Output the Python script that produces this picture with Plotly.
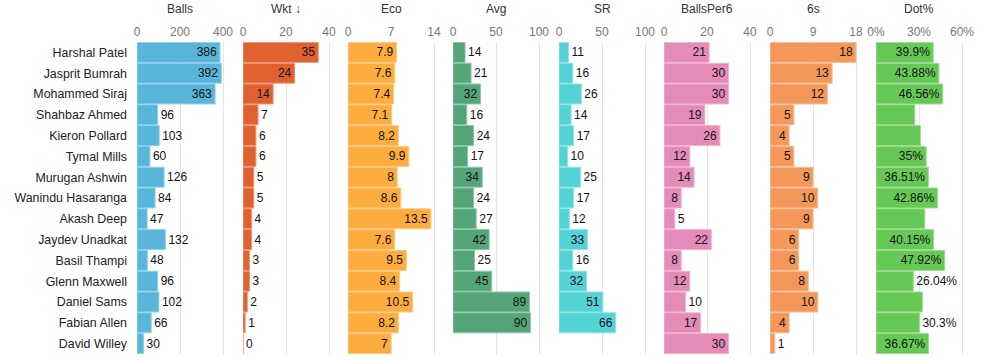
import plotly.graph_objects as go

players = ["Harshal Patel", "Jasprit Bumrah", "Mohammed Siraj", "Shahbaz Ahmed", "Kieron Pollard",
           "Tymal Mills", "Murugan Ashwin", "Wanindu Hasaranga", "Akash Deep", "Jaydev Unadkat",
           "Basil Thampi", "Glenn Maxwell", "Daniel Sams", "Fabian Allen", "David Willey"]
balls = [386, 392, 363, 96, 103, 60, 126, 84, 47, 132, 48, 96, 102, 66, 30]
wkt = [35, 24, 14, 7, 6, 6, 5, 5, 4, 4, 3, 3, 2, 1, 0]
eco = [7.9, 7.6, 7.4, 7.1, 8.2, 9.9, 8, 8.6, 13.5, 7.6, 9.5, 8.4, 10.5, 8.2, 7]
avg = [14, 21, 32, 16, 24, 17, 34, 24, 27, 42, 25, 45, 89, 90, None]
sr = [11, 16, 26, 14, 17, 10, 25, 17, 12, 33, 16, 32, 51, 66, None]
balls_per6 = [21, 30, 30, 19, 26, 12, 14, 8, 5, 22, 8, 12, 10, 17, 30]
sixes = [18, 13, 12, 5, 4, 5, 9, 10, 9, 6, 6, 8, 10, 4, 1]
dot_pct = [39.9, 43.88, 46.56, 27.08, 31.07, 35, 36.51, 42.86, 34.04, 40.15, 47.92, 26.04, 32.35, 30.3, 36.67]
dot_hidden_labels = ["Shahbaz Ahmed", "Kieron Pollard", "Akash Deep", "Daniel Sams"]

titles = ["Balls", "Wkt \u2193", "Eco", "Avg", "SR", "BallsPer6", "6s", "Dot%"]
tickvals = [[0, 200, 400], [0, 20, 40], [0, 7, 14], [0, 50, 100], [0, 50, 100], [0, 20, 40], [0, 9, 18], [0, 30, 60]]
ticktexts = [["0", "200", "400"], ["0", "20", "40"], ["0", "7", "14"], ["0", "50", "100"], ["0", "50", "100"],
             ["0", "20", "40"], ["0", "9", "18"], ["0%", "30%", "60%"]]
series = [balls, wkt, eco, avg, sr, balls_per6, sixes, dot_pct]
colors = ["#58B6DA", "#E0602F", "#FDAC3E", "#54A679", "#54D3D7", "#E58BBA", "#F4985A", "#67C955"]
suffix = ["", "", "", "", "", "", "", "%"]

W_FIG, H_FIG = 997, 361
TOP, BOT = 42, 7
starts = [137, 243, 348, 453, 559, 664, 770, 876]
SPAN = 86   # pixels from 0 to max tick
DW = 96     # domain width px


def lighten(hexc, f=0.35):
    r, g, b = int(hexc[1:3], 16), int(hexc[3:5], 16), int(hexc[5:7], 16)
    r, g, b = [int(c + (255 - c) * f) for c in (r, g, b)]
    return f"rgb({r},{g},{b})"


def text_px(s):
    w = 7.5
    for ch in s:
        if ch.isdigit():
            w += 8.5
        elif ch == ".":
            w += 3
        elif ch == "%":
            w += 7.6
    return w


fig = go.Figure()
layout = {}
annotations = []
plot_h = H_FIG - TOP - BOT
for i, (vals, title) in enumerate(zip(series, titles)):
    tmax = tickvals[i][-1]
    scale = SPAN / tmax
    texts, pos = [], []
    for name, v in zip(players, vals):
        if v is None:
            texts.append("")
            pos.append("none")
            continue
        t = f"{v:g}{suffix[i]}"
        inside = v * scale >= text_px(t)
        if i == 7 and name in dot_hidden_labels:
            t = ""
        texts.append(t)
        pos.append("inside" if inside else "outside")
    ax = "x" if i == 0 else f"x{i+1}"
    fig.add_trace(go.Bar(
        y=players, x=vals, orientation="h", xaxis=ax, yaxis="y",
        marker=dict(color=colors[i], line=dict(color=lighten(colors[i]), width=1)),
        text=texts, textposition=pos, insidetextanchor="end", textangle=0,
        constraintext="none", cliponaxis=False,
        insidetextfont=dict(color="#111", size=12), outsidetextfont=dict(color="#111", size=12),
        hoverinfo="skip", showlegend=False,
    ))
    s = starts[i]
    key = "xaxis" if i == 0 else f"xaxis{i+1}"
    layout[key] = dict(
        domain=[s / W_FIG, (s + DW) / W_FIG], anchor="y", side="top", automargin=False,
        range=[0, tmax * DW / SPAN], tickvals=tickvals[i], ticktext=ticktexts[i],
        showgrid=True, gridcolor="#E4E4E4", gridwidth=1, zeroline=False, showline=False,
        tickfont=dict(size=12, color="#777"), ticklabelstandoff=3, fixedrange=True,
    )
    annotations.append(dict(
        text=title, x=(s + SPAN / 2) / W_FIG, xref="paper", xanchor="center",
        y=(H_FIG - BOT - 9) / plot_h, yref="paper", yanchor="middle",
        showarrow=False, font=dict(size=12, color="#333"),
    ))

fig.update_layout(
    **layout,
    yaxis=dict(anchor="x", categoryorder="array", categoryarray=players, autorange="reversed",
               showgrid=False, zeroline=False, showline=False, ticks="", automargin=False,
               tickfont=dict(size=12.4, color="#222"), ticklabelstandoff=9, fixedrange=True),
    width=W_FIG, height=H_FIG,
    margin=dict(l=0, r=0, t=TOP, b=BOT, pad=0, autoexpand=False),
    bargap=0.04,
    plot_bgcolor="white", paper_bgcolor="white",
    font=dict(family="Liberation Sans, Arial, sans-serif", size=12, color="#222"),
    annotations=annotations,
)

fig.write_html("out.html", config={"displayModeBar": False},
               post_script="document.body.style.margin='0';document.body.style.overflow='hidden';")
